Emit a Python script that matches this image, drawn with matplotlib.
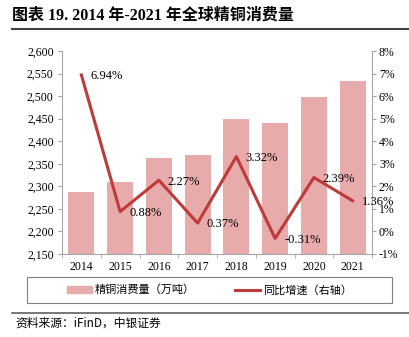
import matplotlib
matplotlib.use("Agg")
from matplotlib import pyplot as plt
from matplotlib.patches import Rectangle
from matplotlib.lines import Line2D
from matplotlib.ticker import FuncFormatter, MultipleLocator
import numpy as np

# data
years = ["2014", "2015", "2016", "2017", "2018", "2019", "2020", "2021"]
consumption = [2288, 2309, 2362, 2370, 2449, 2441, 2499, 2534]   # 万吨
growth = [6.94, 0.88, 2.27, 0.37, 3.32, -0.31, 2.39, 1.36]        # %

title = "图表 19. 2014 年-2021 年全球精铜消费量"
bar_name = "精铜消费量（万吨）"
line_name = "同比增速（右轴）"
source = "资料来源：iFinD，中银证券"

mixed = ["Liberation Serif", "Noto Sans CJK SC", "DejaVu Sans"]
cjk = ["Noto Sans CJK SC", "Liberation Serif", "DejaVu Sans"]
plt.rcParams["font.family"] = mixed

bar_color = "#E8ABAB"
line_color = "#BF3A3A"
axis_color = "#A6A6A6"

fig = plt.figure(figsize=(4.09, 3.37), dpi=100)
ax = fig.add_axes([62 / 409, 1 - 254 / 337, 310 / 409, 203 / 337])
ax2 = ax.twinx()

x = np.arange(len(years))
ax.bar(x, consumption, width=0.67, color=bar_color, zorder=2)
ax.set_ylim(2150, 2600)
ax.set_xlim(-0.5, len(years) - 0.5)
ax.yaxis.set_major_locator(MultipleLocator(50))
ax.yaxis.set_major_formatter(FuncFormatter(lambda v, p: f"{v:,.0f}"))
ax.set_xticks(x)
ax.set_xticklabels(years)
ax.set_xticks(np.arange(len(years) + 1) - 0.5, minor=True)
ax.tick_params(axis="x", which="major", length=0, labelsize=8.5, pad=5)
ax.tick_params(axis="x", which="minor", length=3, color=axis_color)
ax.tick_params(axis="y", length=3, color=axis_color, labelsize=8.5, pad=3)

ax2.plot(x, growth, color=line_color, lw=2.2, zorder=3)
ax2.set_ylim(-1, 8)
ax2.yaxis.set_major_locator(MultipleLocator(1))
ax2.yaxis.set_major_formatter(FuncFormatter(lambda v, p: f"{v:.0f}%"))
ax2.tick_params(axis="y", length=3, color=axis_color, labelsize=8.5, pad=2)

for a in (ax, ax2):
    for s in a.spines.values():
        s.set_visible(False)
ax.spines["left"].set_visible(True)
ax.spines["left"].set_color(axis_color)
ax.spines["bottom"].set_visible(True)
ax.spines["bottom"].set_color(axis_color)
ax2.spines["right"].set_visible(True)
ax2.spines["right"].set_color(axis_color)

for xi, g in zip(x, growth):
    ax2.annotate(f"{g:.2f}%", (xi, g), xytext=(6.5, -1), textcoords="offset points",
                 ha="left", va="center", fontsize=9, zorder=4)

# title and rules
fig.text(12 / 409, 1 - 16 / 337, title, fontsize=11.5, fontweight="bold",
         ha="left", va="center", family=mixed)
fig.add_artist(Line2D([12 / 409, 1], [1 - 29 / 337] * 2, color="#404040", lw=1.5))
fig.add_artist(Line2D([12 / 409, 1], [1 - 313 / 337] * 2, color="#606060", lw=1.2))

# legend box
fig.add_artist(Rectangle((27 / 409, 1 - 303 / 337), 365 / 409, 26 / 337,
                         transform=fig.transFigure, fill=False, ec="#808080", lw=0.8))
handles = [Rectangle((0, 0), 1, 1, color=bar_color),
           Line2D([], [], color=line_color, lw=2.2)]
fig.legend(handles, [bar_name, line_name], loc="center", ncol=2,
           bbox_to_anchor=(209.5 / 409, 1 - 290 / 337), frameon=False,
           prop={"family": cjk, "size": 8}, handlelength=2.2, handleheight=0.5,
           handletextpad=0.3, columnspacing=3.6)

fig.text(15 / 409, 1 - 323 / 337, source, fontsize=8.5, style="italic",
         ha="left", va="center", family=cjk)

fig.savefig("out.png", dpi=100)
